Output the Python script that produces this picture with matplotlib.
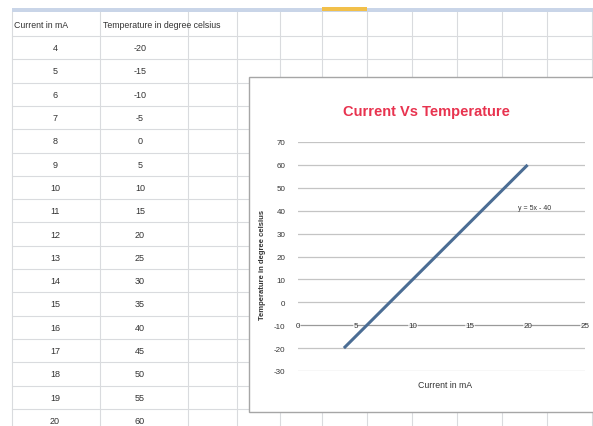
import matplotlib.pyplot as plt
from matplotlib.patches import Rectangle

# data as in the sheet
current_ma = [4, 5, 6, 7, 8, 9, 10, 11, 12, 13, 14, 15, 16, 17, 18, 19, 20]
temperature_c = [-20, -15, -10, -5, 0, 5, 10, 15, 20, 25, 30, 35, 40, 45, 50, 55, 60]
header = ['Current in mA', 'Temperature in degree celsius']
y_ticks = [-30, -20, -10, 0, 10, 20, 30, 40, 50, 60, 70]
x_ticks = [0, 5, 10, 15, 20, 25]

narrow = ['Liberation Sans', 'DejaVu Sans']
W, H = 593, 427

fig = plt.figure(figsize=(W / 100, H / 100), dpi=100)

# spreadsheet background, drawn in pixel coordinates
sheet = fig.add_axes([0, 0, 1, 1])
sheet.set_xlim(0, W)
sheet.set_ylim(H, 0)
sheet.axis('off')

grid_c = '#d9dbde'
col_edges = [12, 100, 188, 237, 280, 322, 367, 412, 457, 502, 547, 592]
row_top = 14
row_h = 23.3
n_rows = len(current_ma) + 1
row_edges = [row_top + 23 + i * row_h for i in range(n_rows)]

sheet.add_patch(Rectangle((12, 9), W - 12, 4, color='#c9d5e8', lw=0))
sheet.add_patch(Rectangle((322, 8), 45, 4, color='#f2c04a', lw=0))
for x in col_edges:
    sheet.plot([x, x], [13, H], color=grid_c, lw=0.8)
for y in row_edges:
    sheet.plot([12, W], [y, y], color=grid_c, lw=0.8)

sheet.text(14, 26, header[0], fontsize=6.3, family=narrow, va='center', color='#333333')
sheet.text(103, 26, header[1], fontsize=6.3, family=narrow, va='center', color='#333333')
for i, (c, t) in enumerate(zip(current_ma, temperature_c)):
    yc = row_edges[0] + (i + 0.5) * row_h
    sheet.text(55, yc, str(c), fontsize=6.5, family=narrow, ha='center', va='center', color='#333333')
    sheet.text(140, yc, str(t), fontsize=6.5, family=narrow, ha='center', va='center', color='#333333')

# chart box
sheet.add_patch(Rectangle((249, 78), W - 249 + 5, 335, facecolor='white',
                          edgecolor='#a6a6a6', lw=1.0, zorder=3))
sheet.text(426, 112, 'Current Vs Temperature', fontsize=10.5, family=narrow,
           fontweight='bold', color='#e8334f', ha='center', va='center', zorder=4)
sheet.text(263, 265, 'Temperature in degree celsius', fontsize=5.5, family=narrow,
           fontweight='bold', rotation=90, ha='center', va='center', color='#333333', zorder=4)
sheet.text(445, 386, 'Current in mA', fontsize=6.3, family=narrow,
           ha='center', va='center', color='#333333', zorder=4)

# plot area
ax = fig.add_axes([298 / W, (H - 372) / H, 287 / W, 229 / H], zorder=5)
ax.patch.set_alpha(0)
ax.plot(current_ma, temperature_c, color='#4b6d94', lw=2.2, solid_capstyle='butt')
ax.set_xlim(0, 25)
ax.set_ylim(-30, 70)
ax.set_yticks(y_ticks)
ax.set_xticks([])
ax.set_yticklabels([str(v) for v in y_ticks], fontsize=5.8, family=narrow, color='#333333')
ax.tick_params(axis='y', length=0, pad=9)
for s in ax.spines.values():
    s.set_visible(False)
for v in y_ticks:
    ax.axhline(v, color='#c4c4c4' if v != -10 else '#9a9a9a', lw=0.9, zorder=0)
for v in x_ticks:
    ax.text(v, -10, str(v), fontsize=5.8, family=narrow, ha='center', va='center',
            color='#333333', zorder=1,
            bbox=dict(facecolor='white', edgecolor='none', pad=0.3, alpha=0.6))
ax.text(20.6, 41.5, 'y = 5x - 40', fontsize=5, family=narrow, ha='center', va='center', color='#333333')

fig.savefig('out.png', dpi=100)
